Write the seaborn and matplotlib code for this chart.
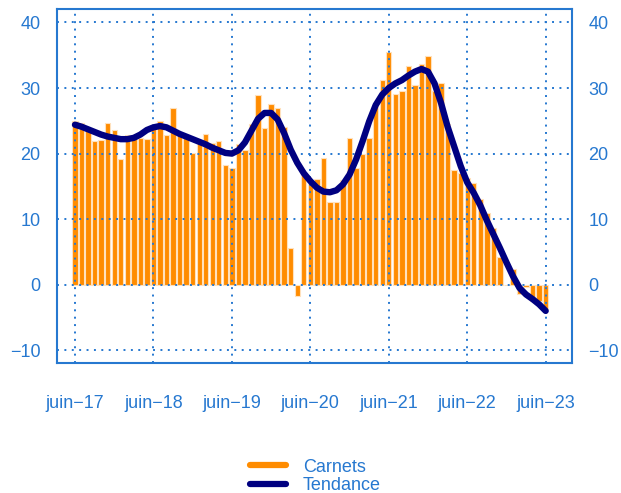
import matplotlib
matplotlib.use("Agg")
import matplotlib.pyplot as plt
import pandas as pd
import seaborn as sns
from matplotlib.lines import Line2D

# mois de juin-17 à juin-23 (73 mois)
annees = ["17", "18", "19", "20", "21", "22", "23"]

carnets = [24.9, 24.7, 23.6, 21.9, 22.0, 24.7, 23.6, 19.2, 22.8, 22.3, 22.4, 22.3,
           24.1, 24.9, 22.8, 27.0, 23.2, 22.6, 20.1, 21.6, 23.0, 21.6, 21.9, 18.3,
           17.8, 21.5, 20.6, 24.5, 28.9, 23.9, 27.5, 26.9, 24.0, 5.6, -1.7, 16.9,
           15.4, 16.1, 19.3, 12.6, 12.6, 16.0, 22.4, 17.8, 20.0, 22.4, 27.2, 31.2,
           35.5, 29.1, 29.5, 33.3, 30.5, 33.6, 34.9, 29.5, 30.8, 24.5, 17.5, 17.0,
           16.3, 15.5, 13.1, 11.0, 8.6, 4.2, -0.1, 2.4, -1.4, -0.4, -2.5, -2.5, -3.7]

tendance = [24.4, 24.1, 23.7, 23.3, 22.9, 22.6, 22.4, 22.2, 22.2, 22.4, 22.9, 23.6,
            24.0, 24.2, 24.0, 23.5, 23.0, 22.6, 22.2, 21.8, 21.4, 20.9, 20.5, 20.1,
            20.0, 20.5, 21.7, 23.5, 25.3, 26.2, 26.2, 25.2, 23.1, 20.6, 18.6, 17.0,
            15.8, 14.8, 14.2, 14.1, 14.4, 15.3, 16.8, 19.1, 21.9, 24.9, 27.4, 29.0,
            30.0, 30.7, 31.2, 31.9, 32.5, 32.9, 32.5, 30.7, 27.7, 24.1, 21.1, 18.1,
            15.6, 14.0, 12.1, 9.8, 7.7, 5.6, 3.4, 1.3, -0.5, -1.5, -2.2, -3.0, -4.0]

df = pd.DataFrame({"mois": list(range(len(carnets))),
                   "Carnets": carnets,
                   "Tendance": tendance})

bleu = "#2678d0"
orange = "#ff8c00"
marine = "#000080"

sns.set_theme(style="white", font="Liberation Sans")
plt.rcParams["font.family"] = ["Liberation Sans", "DejaVu Sans"]

fig = plt.figure(figsize=(6.21, 4.93), dpi=100)
ax = fig.add_axes([0.0918, 0.263, 0.829, 0.718])

sns.barplot(data=df, x="mois", y="Carnets", native_scale=True, color=orange,
            saturation=1, width=0.82, edgecolor="#ffe1bd", linewidth=0.8,
            errorbar=None, ax=ax, zorder=1)
sns.lineplot(data=df, x="mois", y="Tendance", color=marine, linewidth=4.6,
             solid_joinstyle="round", ax=ax, zorder=4)

ax.set_xlim(-2.75, 76)
ax.set_ylim(-12, 42)
ax.set_xticks(range(0, 73, 12))
ax.set_xticklabels(["juin\u2212" + a for a in annees])
ax.set_yticks(range(-10, 41, 10))
ax.set_yticklabels([str(v).replace("-", "\u2212") for v in range(-10, 41, 10)])
ax.set_xlabel("")
ax.set_ylabel("")

ax.grid(True, linestyle=(0, (1, 2.8)), color=bleu, linewidth=1.4)
ax.set_axisbelow(False)
for s in ax.spines.values():
    s.set_color(bleu)
    s.set_linewidth(1.5)
    s.set_visible(True)

ax.tick_params(axis="y", length=0, colors=bleu, labelsize=13, pad=12,
               labelright=True)
ax.tick_params(axis="x", length=0, colors=bleu, labelsize=13, pad=23)

poignees = [Line2D([], [], color=orange, lw=4.5),
            Line2D([], [], color=marine, lw=4.5)]
fig.legend(poignees, ["Carnets", "Tendance"], loc="center",
           bbox_to_anchor=(0.508, 0.034), frameon=False, fontsize=13,
           labelcolor=bleu, handlelength=2.0, handletextpad=0.95,
           labelspacing=0.07)

fig.savefig("out.png", dpi=100)
